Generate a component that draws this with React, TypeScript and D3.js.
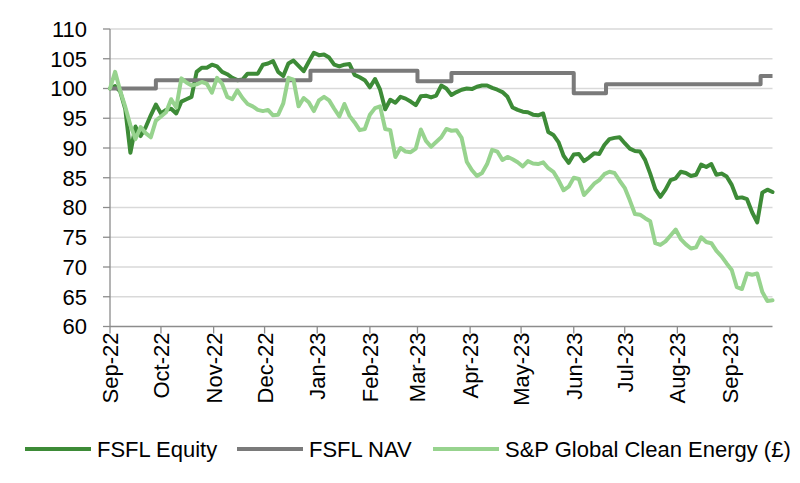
import React from "react";
import * as d3 from "d3";

// Observation dates: every 3 days from 1 Sep 2022
const startDate = new Date(2022, 8, 1);
const endDate = new Date(2023, 8, 26);
const stepDays = 3;

const fsflEquity = [
  100, 100.4, 99.5, 96.5, 89.2, 93.6, 92, 93.5, 95.5, 97.3,
  95.8, 96.4, 96.6, 95.8, 97.8, 98.2, 98.6, 102.8, 103.5, 103.5,
  104, 103.7, 102.8, 102.4, 101.8, 101.4, 101.5, 102.5, 102.5, 102.5,
  104, 104.2, 104.6, 102.8, 102.1, 104.2, 104.7, 103.8, 102.9, 104.5,
  106, 105.6, 105.7, 105.2, 104, 103.7, 104, 104.1, 102.3, 101.9,
  101.4, 100.2, 101.6, 99.8, 96.5, 98.1, 97.6, 98.6, 98.3, 97.8,
  97.2, 98.7, 98.8, 98.5, 98.8, 100.5, 100, 98.9, 99.4, 99.8,
  100, 99.9, 100.3, 100.5, 100.5, 100.1, 99.8, 99.4, 98.6, 96.8,
  96.4, 96.1, 96, 95.6, 95.5, 95.8, 92.7, 92.2, 91, 88.7,
  87.5, 88.9, 89, 87.8, 88.4, 89.1, 89, 90.5, 91.5, 91.7,
  91.8, 90.8, 89.9, 89.5, 89.4, 88, 85.7, 83.1, 81.8, 83,
  84.6, 84.9, 86, 85.8, 85.3, 85.5, 87.2, 86.8, 87.3, 85.5,
  85.7, 85.2, 83.8, 81.6, 81.7, 81.4, 79.2, 77.5, 82.5, 83,
  82.6,
];

const spGlobalCleanEnergy = [
  100, 102.8, 99.6, 96.9, 93.8, 91.5, 93.5, 92.5, 91.8, 94.6,
  95.3, 96, 98.2, 96.8, 101.7, 101, 100.5, 100.7, 101.1, 100.8,
  99.3, 101.8, 100.8, 98.6, 98.2, 99.7, 98.4, 97.4, 97, 96.4,
  96.2, 96.4, 95.5, 95.6, 97.5, 101.8, 101.5, 97, 98.4, 97.7,
  96.2, 98, 98.6, 98, 96.6, 95.3, 97.4, 95.4, 94.3, 93,
  93.2, 95.6, 96.7, 97, 93.2, 93, 88.5, 90, 89.4, 89.3,
  89.9, 93.1, 91.2, 90.2, 91, 91.8, 93.2, 92.9, 93, 91.7,
  87.7, 86.3, 85.3, 85.8, 87.3, 89.7, 89.4, 88, 88.5, 88.1,
  87.6, 86.9, 87.8, 87.4, 87.3, 87.6, 86.6, 86, 84.6, 82.9,
  83.5, 85, 84.8, 82.1, 83, 84, 84.6, 85.6, 86, 85.8,
  84.5, 83.3, 81.2, 78.9, 78.8, 78.2, 77.7, 74, 73.7, 74.3,
  75.3, 76.3, 74.7, 73.8, 73.1, 73.3, 75, 74.2, 74, 72.7,
  71.8, 70.6, 69.5, 66.6, 66.3, 68.9, 68.7, 68.9, 65.8, 64.3,
  64.4,
];

// NAV: step changes (date, value)
const navDates = [
  "2022-09-01", "2022-09-28", "2022-12-28", "2023-03-01",
  "2023-03-21", "2023-06-01", "2023-06-20", "2023-09-19", "2023-09-26",
];
const navValues = [100, 101.4, 103, 101.2, 102.6, 99.2, 100.7, 102.1, 102.1];

const yTicks = [60, 65, 70, 75, 80, 85, 90, 95, 100, 105, 110];

const seriesNames = ["FSFL Equity", "FSFL NAV", "S&P Global Clean Energy (£)"];
const seriesColors = ["#3d8b37", "#7a7a7a", "#97d38e"];

const W = 800;
const H = 483;
const FONT = "'Liberation Sans', Arial, sans-serif";

function parseDate(s: string) {
  const [y, m, d] = s.split("-").map(Number);
  return new Date(y, m - 1, d);
}

export default function App() {
  const x = d3.scaleTime().domain([startDate, endDate]).range([110, 772.5]);
  const y = d3.scaleLinear().domain([60, 110]).range([326.5, 29]);

  const obsDates = fsflEquity.map((_, i) => d3.timeDay.offset(startDate, i * stepDays));

  const line = d3
    .line<[Date, number]>()
    .x((d) => x(d[0]))
    .y((d) => y(d[1]));
  const stepLine = d3
    .line<[Date, number]>()
    .x((d) => x(d[0]))
    .y((d) => y(d[1]))
    .curve(d3.curveStepAfter);

  const eqData = fsflEquity.map((v, i) => [obsDates[i], v] as [Date, number]);
  const spData = spGlobalCleanEnergy.map((v, i) => [obsDates[i], v] as [Date, number]);
  const navData = navValues.map((v, i) => [parseDate(navDates[i]), v] as [Date, number]);

  const months = d3.timeMonth.range(startDate, d3.timeDay.offset(endDate, 1));
  const fmt = d3.timeFormat("%b-%y");

  const [x0, x1] = x.range();
  const axisColor = "#8c8c8c";

  const legendItems = [
    { name: seriesNames[0], color: seriesColors[0], x1: 25, x2: 91, tx: 97 },
    { name: seriesNames[1], color: seriesColors[1], x1: 237, x2: 303, tx: 309 },
    { name: seriesNames[2], color: seriesColors[2], x1: 433, x2: 499, tx: 505 },
  ];

  return (
    <svg
      width={W}
      height={H}
      style={{ position: "absolute", left: 0, top: 0, background: "#fff" }}
      fontFamily={FONT}
    >
      {/* gridlines */}
      {yTicks
        .filter((t) => t !== 60)
        .map((t) => (
          <line key={"g" + t} x1={x0} x2={x1} y1={y(t)} y2={y(t)} stroke="#d9d9d9" strokeWidth={1.3} />
        ))}
      {/* y axis */}
      <line x1={x0} x2={x0} y1={y(110)} y2={y(60)} stroke={axisColor} strokeWidth={1.3} />
      {yTicks.map((t) => (
        <g key={"yt" + t}>
          <line x1={x0 - 7} x2={x0} y1={y(t)} y2={y(t)} stroke={axisColor} strokeWidth={1.3} />
          <text x={87} y={y(t)} dy="0.36em" textAnchor="end" fontSize={22} fill="#000">
            {t}
          </text>
        </g>
      ))}
      {/* x axis */}
      <line x1={x0} x2={x1} y1={y(60)} y2={y(60)} stroke={axisColor} strokeWidth={1.3} />
      {months.map((m) => (
        <g key={"xt" + m.getTime()}>
          <line x1={x(m)} x2={x(m)} y1={y(60)} y2={y(60) + 7} stroke={axisColor} strokeWidth={1.3} />
          <text
            transform={`translate(${x(m)},${y(60) + 6}) rotate(-90)`}
            textAnchor="end"
            dy="0.36em"
            fontSize={22}
            fill="#000"
          >
            {fmt(m)}
          </text>
        </g>
      ))}
      {/* series */}
      <path d={line(eqData) || ""} fill="none" stroke={seriesColors[0]} strokeWidth={4} strokeLinejoin="round" strokeLinecap="round" />
      <path d={stepLine(navData) || ""} fill="none" stroke={seriesColors[1]} strokeWidth={4} strokeLinejoin="round" />
      <path d={line(spData) || ""} fill="none" stroke={seriesColors[2]} strokeWidth={4} strokeLinejoin="round" strokeLinecap="round" />
      {/* legend */}
      {legendItems.map((it) => (
        <g key={it.name}>
          <line x1={it.x1} x2={it.x2} y1={449} y2={449} stroke={it.color} strokeWidth={4} />
          <text x={it.tx} y={456.5} fontSize={22} fill="#000">
            {it.name}
          </text>
        </g>
      ))}
    </svg>
  );
}
